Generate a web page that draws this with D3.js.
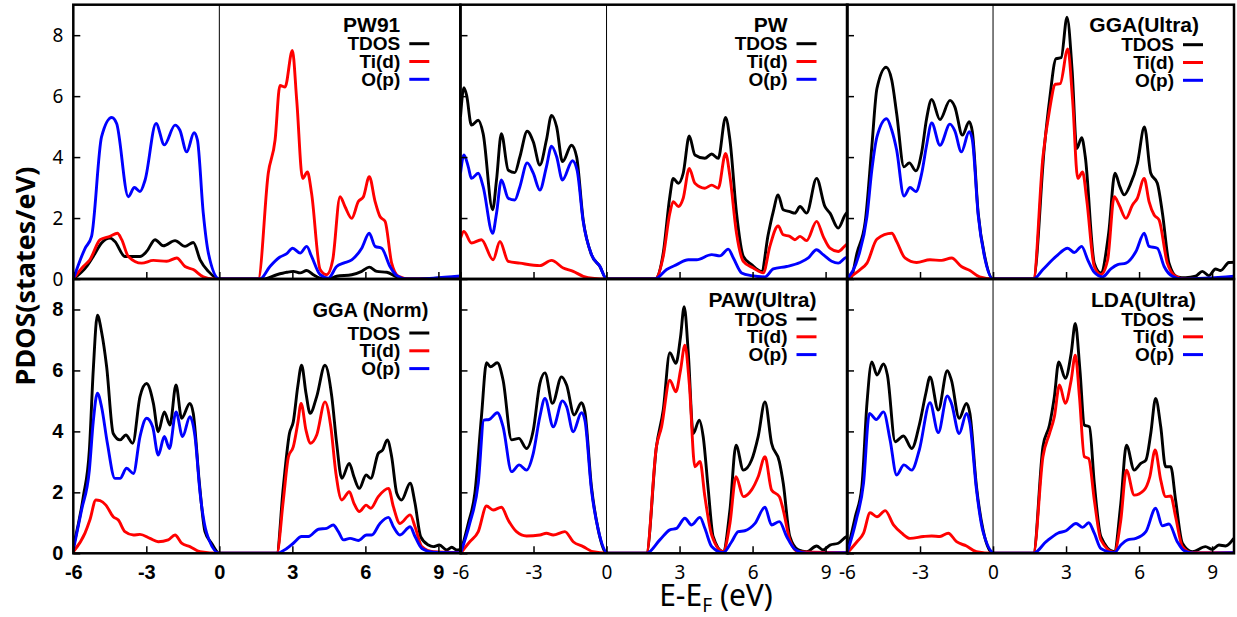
<!DOCTYPE html>
<html>
<head>
<meta charset="utf-8">
<script src="https://d3js.org/d3.v7.min.js"></script>
<style>
  body { margin: 0; background: #fff; }
  svg { display: block; }
</style>
</head>
<body>
<svg id="chart" width="1237" height="617"></svg>
<script>
// energies (eV) and DOS (states/eV)
var PW91_TDOS = [[-6,0],[-5.45,0.41],[-5.18,0.74],[-4.84,1.18],[-4.49,1.34],[-4.29,1.23],[-3.88,0.74],[-3.53,0.74],[-3.26,0.74],[-2.99,0.9],[-2.64,1.29],[-2.3,1.09],[-1.82,1.26],[-1.41,1.07],[-1.07,1.2],[-0.79,0.63],[-0.45,0.25],[0,0],[1.81,0],[2.36,0.14],[2.77,0.22],[3.04,0.25],[3.32,0.2],[3.59,0.28],[3.86,0.14],[4.14,0.03],[4.48,0],[4.82,0.09],[5.44,0.14],[5.85,0.25],[6.16,0.39],[6.47,0.25],[6.88,0.22],[7.29,0.07],[7.7,0],[8.8,0.02],[9.9,0.07]];
var PW91_TID = [[-6,0],[-5.59,0.41],[-5.32,0.63],[-4.9,1.29],[-4.49,1.4],[-4.19,1.5],[-4.01,1.29],[-3.74,0.74],[-3.19,0.52],[-2.71,0.61],[-2.16,0.58],[-1.75,0.69],[-1.41,0.41],[-1.07,0.31],[-0.66,0.07],[-0.25,0],[1.6,0],[2.01,3.47],[2.29,4.56],[2.49,6.35],[2.7,6.3],[3.0,7.5],[3.18,5.86],[3.42,3.3],[3.62,3.51],[3.79,2.81],[4.14,0.31],[4.41,0.14],[4.66,0.63],[4.96,2.7],[5.16,2.38],[5.44,1.99],[5.71,2.54],[5.92,2.7],[6.16,3.36],[6.4,2.54],[6.6,2.05],[6.81,1.89],[7.08,0.52],[7.36,0.09],[7.84,0],[9.9,0.05]];
var PW91_OP = [[-6,0],[-5.52,1.0],[-5.25,1.4],[-4.84,4.66],[-4.42,5.3],[-4.22,5.1],[-3.74,2.7],[-3.49,3.0],[-3.26,2.87],[-3.05,3.25],[-2.6,5.1],[-2.26,4.4],[-1.82,5.05],[-1.62,4.88],[-1.34,4.17],[-1.04,4.8],[-0.9,4.56],[-0.66,2.16],[-0.45,0.85],[0,0],[1.67,0],[2.08,0.41],[2.49,0.72],[2.77,0.83],[3.01,1.01],[3.32,0.85],[3.59,1.07],[3.79,0.74],[4.14,0.14],[4.48,0.03],[4.82,0.41],[5.1,0.52],[5.44,0.63],[5.85,1.01],[6.16,1.5],[6.4,1.07],[6.67,1.01],[7.01,0.41],[7.29,0.11],[7.7,0],[8.8,0.03],[9.9,0.1]];

var PW_TDOS = [[-6,5.32],[-5.86,6.28],[-5.75,6.03],[-5.55,5.05],[-5.27,5.21],[-5.07,4.77],[-4.68,2.27],[-4.52,3.25],[-4.32,4.77],[-4.04,3.57],[-3.77,3.49],[-3.56,4.01],[-3.26,4.85],[-3.01,4.5],[-2.74,3.74],[-2.47,4.56],[-2.26,5.37],[-2.05,4.99],[-1.81,3.85],[-1.44,4.39],[-1.23,4.01],[-0.96,1.94],[-0.62,0.8],[-0.27,0.41],[0,0],[1.99,0],[2.33,0.85],[2.6,2.7],[2.74,3.3],[2.95,3.14],[3.15,3.47],[3.4,4.69],[3.63,4.07],[4.04,3.96],[4.32,4.1],[4.59,3.96],[4.89,5.3],[5.07,4.56],[5.34,2.16],[5.62,0.74],[5.96,0.47],[6.37,0.25],[6.64,1.45],[6.85,2.21],[7.05,2.76],[7.26,2.27],[7.53,2.21],[7.74,2.16],[7.95,2.38],[8.22,2.16],[8.63,3.3],[8.97,2.38],[9.18,2.16],[9.52,1.67],[9.8,2.1],[9.9,2.2]];
var PW_TID = [[-6,1.34],[-5.86,1.56],[-5.55,1.18],[-5.14,1.29],[-4.66,0.63],[-4.38,1.23],[-4.04,0.58],[-3.56,0.52],[-2.74,0.44],[-2.26,0.61],[-1.78,0.36],[-1.37,0.25],[-0.96,0.09],[-0.5,0.02],[0,0],[1.99,0],[2.33,0.74],[2.6,2.16],[2.74,2.54],[2.95,2.38],[3.15,2.65],[3.4,3.63],[3.63,3.14],[4.04,2.98],[4.32,3.08],[4.59,2.98],[4.89,4.12],[5.07,3.36],[5.34,1.5],[5.62,0.58],[6.03,0.36],[6.44,0.2],[6.71,1.07],[7.05,1.74],[7.26,1.45],[7.53,1.4],[7.74,1.29],[7.95,1.4],[8.22,1.26],[8.63,1.89],[8.9,1.4],[9.18,1.01],[9.52,0.9],[9.8,1.09],[9.9,1.15]];
var PW_OP = [[-6,3.47],[-5.86,4.07],[-5.68,3.68],[-5.55,3.3],[-5.27,3.47],[-5.07,3.03],[-4.68,1.5],[-4.52,2.16],[-4.32,3.25],[-4.04,2.65],[-3.77,2.59],[-3.56,3.03],[-3.26,3.81],[-3.01,3.47],[-2.74,2.92],[-2.47,3.68],[-2.26,4.36],[-2.05,4.01],[-1.81,3.25],[-1.4,3.88],[-1.21,3.57],[-0.96,1.89],[-0.62,0.8],[-0.27,0.41],[0,0],[1.99,0],[2.47,0.31],[2.88,0.47],[3.36,0.63],[3.7,0.63],[4.32,0.8],[4.66,0.76],[5.0,0.98],[5.21,0.69],[5.55,0.2],[5.96,0.11],[6.51,0.07],[6.85,0.33],[7.4,0.41],[7.95,0.54],[8.29,0.69],[8.63,0.96],[8.9,0.8],[9.25,0.58],[9.52,0.52],[9.8,0.69],[9.9,0.72]];

var GGAU_TDOS = [[-6,0],[-5.84,0.03],[-5.59,0.85],[-5.25,1.89],[-4.98,4.34],[-4.77,6.25],[-4.39,6.95],[-4.16,6.52],[-3.96,5.43],[-3.66,3.68],[-3.44,3.81],[-3.17,3.55],[-2.93,4.17],[-2.73,5.26],[-2.52,5.89],[-2.18,5.23],[-1.77,5.86],[-1.57,5.65],[-1.26,4.72],[-0.98,5.16],[-0.85,4.83],[-0.61,2.16],[-0.34,0.74],[0,0],[1.66,0],[2.11,4.34],[2.32,5.86],[2.59,7.23],[2.8,7.26],[3.04,8.59],[3.25,6.84],[3.44,4.28],[3.64,4.64],[3.79,4.01],[4.16,0.52],[4.43,0.2],[4.75,1.5],[5.01,3.47],[5.21,3.03],[5.39,2.76],[5.63,3.08],[5.93,3.79],[6.22,4.99],[6.48,3.47],[6.75,3.14],[6.96,2.16],[7.23,0.52],[7.57,0.07],[7.91,0.04],[8.32,0.09],[8.6,0.25],[8.87,0.11],[9.14,0.33],[9.35,0.28],[9.69,0.54],[9.9,0.55]];
var GGAU_TID = [[-6,0],[-5.46,0.31],[-5.18,0.52],[-4.77,1.31],[-4.16,1.5],[-3.96,1.23],[-3.62,0.69],[-3.14,0.54],[-2.59,0.63],[-2.11,0.61],[-1.7,0.69],[-1.3,0.41],[-0.95,0.28],[-0.55,0.07],[0,0],[1.66,0],[2.05,4.01],[2.32,5.54],[2.56,6.39],[2.76,6.41],[3.07,7.55],[3.27,5.86],[3.48,3.3],[3.68,3.51],[3.85,2.59],[4.16,0.41],[4.43,0.14],[4.71,0.63],[4.98,2.7],[5.18,2.43],[5.46,1.99],[5.73,2.43],[5.93,2.65],[6.21,3.3],[6.41,2.54],[6.62,2.1],[6.82,1.94],[7.16,0.52],[7.5,0.09],[7.91,0],[9.9,0.02]];
var GGAU_OP = [[-6,0],[-5.53,0.74],[-5.18,2.05],[-4.98,3.57],[-4.77,4.66],[-4.37,5.26],[-4.16,4.88],[-3.96,4.23],[-3.66,2.72],[-3.41,3.0],[-3.17,2.87],[-2.93,3.47],[-2.73,4.39],[-2.52,5.12],[-2.18,4.39],[-1.77,5.08],[-1.57,4.86],[-1.3,4.17],[-0.98,4.83],[-0.85,4.56],[-0.61,2.1],[-0.34,0.69],[0,0],[1.66,0],[2.05,0.31],[2.59,0.74],[3.07,1.01],[3.34,0.87],[3.64,1.07],[3.89,0.63],[4.16,0.22],[4.5,0.07],[4.84,0.33],[5.12,0.47],[5.46,0.52],[5.87,0.9],[6.21,1.5],[6.41,1.07],[6.75,1.01],[7.03,0.41],[7.37,0.09],[7.8,0],[9.9,0.09]];

var GGAN_TDOS = [[-6,0.22],[-5.59,1.86],[-5.34,3.39],[-5.18,6.01],[-5.01,7.81],[-4.84,7.27],[-4.63,6.12],[-4.36,3.93],[-4.08,3.72],[-3.84,3.88],[-3.56,3.61],[-3.26,5.14],[-2.99,5.57],[-2.71,4.92],[-2.51,3.99],[-2.26,4.64],[-2.03,4.21],[-1.78,5.52],[-1.55,4.43],[-1.21,4.92],[-1.07,4.59],[-0.82,2.3],[-0.59,0.71],[-0.32,0.33],[0,0],[2.36,0],[2.63,2.19],[2.88,3.93],[3.04,4.32],[3.22,5.46],[3.38,6.17],[3.56,5.25],[3.73,4.59],[4.0,5.14],[4.34,6.17],[4.62,5.14],[4.82,3.61],[5.03,2.46],[5.34,2.95],[5.53,2.51],[5.75,2.13],[6.03,2.57],[6.22,2.46],[6.53,3.28],[6.71,3.39],[6.9,3.72],[7.08,3.17],[7.29,1.97],[7.49,1.75],[7.84,2.3],[8.04,1.64],[8.27,0.55],[8.59,0.27],[8.79,0.22],[9.04,0.27],[9.34,0.11],[9.55,0.2],[9.75,0.11],[9.9,0.13]];
var GGAN_TID = [[-6,0.05],[-5.52,0.66],[-5.32,1.09],[-5.07,1.75],[-4.9,1.73],[-4.66,1.58],[-4.36,1.2],[-4.15,1.09],[-3.88,0.71],[-3.53,0.6],[-3.26,0.62],[-2.85,0.49],[-2.51,0.38],[-2.1,0.44],[-1.82,0.6],[-1.55,0.33],[-1.21,0.22],[-0.79,0.05],[0,0],[2.36,0],[2.63,1.75],[2.84,3.17],[3.04,3.5],[3.22,4.26],[3.36,4.92],[3.56,4.04],[3.75,3.61],[4.0,3.88],[4.34,4.97],[4.58,4.15],[4.79,2.62],[5.03,1.75],[5.34,2.02],[5.53,1.64],[5.75,1.37],[6.03,1.58],[6.22,1.48],[6.53,1.86],[6.95,2.13],[7.15,1.53],[7.42,0.98],[7.84,1.26],[8.04,0.87],[8.32,0.22],[8.79,0.05],[9.9,0.02]];
var GGAN_OP = [[-6,0.1],[-5.66,1.42],[-5.34,2.73],[-5.18,4.32],[-5.01,5.25],[-4.84,4.81],[-4.6,3.61],[-4.29,2.46],[-4.08,2.46],[-3.81,2.79],[-3.53,2.62],[-3.26,3.83],[-2.99,4.43],[-2.74,4.15],[-2.51,3.22],[-2.26,3.83],[-2.05,3.44],[-1.78,4.64],[-1.51,3.83],[-1.21,4.48],[-1.0,3.83],[-0.79,1.97],[-0.52,0.66],[0,0],[2.36,0],[2.77,0.16],[3.04,0.33],[3.38,0.55],[3.66,0.55],[4.07,0.79],[4.41,0.82],[4.68,0.93],[4.89,0.71],[5.1,0.44],[5.37,0.49],[5.71,0.42],[6.05,0.6],[6.26,0.6],[6.6,0.98],[6.95,1.18],[7.15,0.87],[7.42,0.6],[7.84,0.87],[8.04,0.55],[8.32,0.16],[8.79,0.04],[9.9,0.02]];

var PAW_TDOS = [[-6,0],[-5.68,0.98],[-5.41,1.97],[-5.14,4.48],[-4.93,6.25],[-4.77,6.12],[-4.49,6.25],[-4.25,5.68],[-3.9,3.72],[-3.6,3.77],[-3.29,3.44],[-3.01,4.04],[-2.74,5.57],[-2.53,5.92],[-2.22,4.92],[-1.85,5.79],[-1.64,5.52],[-1.33,4.54],[-1.03,4.94],[-0.89,4.64],[-0.62,2.19],[-0.34,0.77],[0,0],[1.64,0],[2.05,3.5],[2.33,4.7],[2.6,6.58],[2.85,6.23],[3.04,7.1],[3.19,8.09],[3.36,6.56],[3.56,3.93],[3.81,4.37],[3.97,3.83],[4.18,2.08],[4.38,0.55],[4.79,0.05],[5.07,1.42],[5.32,3.55],[5.62,2.73],[5.96,3.06],[6.23,3.83],[6.51,4.97],[6.78,3.61],[7.1,3.01],[7.26,2.3],[7.53,0.55],[7.88,0.11],[8.22,0.05],[8.63,0.24],[8.9,0.11],[9.18,0.27],[9.52,0.33],[9.86,0.55],[9.9,0.56]];
var PAW_TID = [[-6,0],[-5.62,0.38],[-5.27,0.71],[-4.93,1.55],[-4.66,1.42],[-4.32,1.51],[-4.04,1.09],[-3.7,0.71],[-3.29,0.57],[-2.74,0.6],[-2.47,0.66],[-2.19,0.6],[-1.71,0.71],[-1.37,0.38],[-0.96,0.22],[-0.55,0.05],[0,0],[1.64,0],[2.05,3.5],[2.26,4.15],[2.6,5.68],[2.85,5.3],[3.04,6.01],[3.22,6.83],[3.4,5.57],[3.63,2.84],[3.84,3.01],[4.04,1.86],[4.32,0.6],[4.79,0.05],[5.07,0.98],[5.32,2.51],[5.62,1.86],[5.96,2.08],[6.23,2.51],[6.51,3.17],[6.78,2.08],[7.1,1.86],[7.26,1.42],[7.53,0.44],[7.88,0.05],[9.9,0.02]];
var PAW_OP = [[-6,0],[-5.62,0.98],[-5.27,2.3],[-5.04,4.37],[-4.82,4.39],[-4.49,4.61],[-4.25,4.15],[-3.9,2.68],[-3.59,2.9],[-3.29,2.73],[-3.01,3.28],[-2.74,4.48],[-2.53,5.08],[-2.19,4.15],[-1.81,5.0],[-1.64,4.81],[-1.37,3.99],[-1.03,4.61],[-0.89,4.37],[-0.62,2.08],[-0.34,0.77],[0.07,0],[1.64,0],[2.19,0.44],[2.6,0.77],[2.88,0.82],[3.22,1.15],[3.49,0.93],[3.84,1.18],[4.04,0.82],[4.32,0.22],[4.79,0.02],[5.14,0.38],[5.41,0.71],[5.68,0.74],[6.1,0.98],[6.51,1.51],[6.78,0.93],[7.1,1.04],[7.4,0.55],[7.74,0.13],[8.22,0],[9.9,0.02]];

var LDA_TDOS = [[-6,0],[-5.66,1.2],[-5.39,2.19],[-5.18,4.92],[-4.98,6.28],[-4.77,5.85],[-4.5,6.21],[-4.34,5.85],[-4.02,3.66],[-3.68,3.85],[-3.34,3.44],[-3.03,4.21],[-2.76,5.25],[-2.59,5.79],[-2.25,4.7],[-1.88,5.99],[-1.71,5.68],[-1.39,4.43],[-1.09,4.92],[-0.95,4.59],[-0.68,2.19],[-0.41,0.77],[0,0],[1.66,0],[2.05,3.5],[2.32,4.21],[2.52,5.14],[2.7,6.28],[2.97,5.74],[3.21,6.56],[3.38,7.54],[3.57,6.01],[3.75,4.21],[3.96,4.15],[4.16,2.3],[4.43,0.55],[4.98,0.05],[5.25,1.64],[5.48,3.55],[5.8,2.73],[6.07,2.95],[6.28,3.06],[6.48,3.93],[6.68,5.08],[6.89,4.15],[7.09,2.84],[7.3,2.84],[7.5,1.75],[7.78,0.33],[8.19,0.05],[8.73,0.22],[9.0,0.13],[9.28,0.27],[9.55,0.24],[9.89,0.49]];
var LDA_TID = [[-6,0],[-5.59,0.38],[-5.32,0.66],[-5.05,1.33],[-4.77,1.2],[-4.43,1.4],[-4.09,0.93],[-3.75,0.66],[-3.41,0.49],[-2.86,0.55],[-2.52,0.57],[-2.18,0.55],[-1.84,0.66],[-1.5,0.38],[-1.09,0.24],[-0.68,0.05],[0,0],[1.66,0],[2.05,3.17],[2.32,3.93],[2.52,4.48],[2.73,5.52],[2.97,4.92],[3.21,5.68],[3.38,6.5],[3.55,5.14],[3.75,3.17],[3.93,3.11],[4.16,1.75],[4.43,0.44],[4.98,0.03],[5.25,1.09],[5.48,2.73],[5.8,1.91],[6.21,2.08],[6.44,2.51],[6.66,3.39],[6.89,2.4],[7.09,1.86],[7.3,1.88],[7.5,1.2],[7.78,0.22],[8.19,0.02],[9.9,0.02]];
var LDA_OP = [[-6,0],[-5.62,1.09],[-5.32,2.3],[-5.08,4.59],[-4.8,4.39],[-4.5,4.64],[-4.23,3.72],[-3.96,2.57],[-3.66,2.9],[-3.34,2.73],[-3.03,3.39],[-2.59,4.94],[-2.25,3.96],[-1.88,5.16],[-1.71,4.92],[-1.39,3.93],[-1.09,4.59],[-0.95,4.26],[-0.68,2.08],[-0.41,0.71],[0.07,0],[1.66,0],[2.18,0.38],[2.66,0.66],[3.0,0.74],[3.41,0.98],[3.68,0.85],[3.93,1.0],[4.16,0.66],[4.43,0.16],[4.98,0.02],[5.25,0.27],[5.53,0.44],[5.87,0.49],[6.28,0.71],[6.68,1.48],[6.96,0.9],[7.23,0.96],[7.57,0.38],[7.84,0.09],[8.3,0],[9.9,0.02]];

var seriesNames = ['TDOS', 'Ti(d)', 'O(p)'];
var seriesColors = ['#000000', '#ff0000', '#0000ff'];
var yTicks = [0, 2, 4, 6, 8];
var xTicks = [-6, -3, 0, 3, 6, 9];

var panels = [
  {title: 'PW91',       row: 0, col: 0, series: [PW91_TDOS, PW91_TID, PW91_OP]},
  {title: 'PW',         row: 0, col: 1, series: [PW_TDOS, PW_TID, PW_OP]},
  {title: 'GGA(Ultra)', row: 0, col: 2, series: [GGAU_TDOS, GGAU_TID, GGAU_OP]},
  {title: 'GGA (Norm)', row: 1, col: 0, series: [GGAN_TDOS, GGAN_TID, GGAN_OP]},
  {title: 'PAW(Ultra)', row: 1, col: 1, series: [PAW_TDOS, PAW_TID, PAW_OP]},
  {title: 'LDA(Ultra)', row: 1, col: 2, series: [LDA_TDOS, LDA_TID, LDA_OP]}
];

// legend placement per panel (offsets from panel right / top)
var legendLayout = [
  {titleDx: -60, titleDy: 27, titleSize: 21, rowDy: 39},
  {titleDx: -60, titleDy: 27, titleSize: 21, rowDy: 39},
  {titleDx: -35, titleDy: 27, titleSize: 21, rowDy: 40},
  {titleDx: -32, titleDy: 38, titleSize: 20, rowDy: 54},
  {titleDx: -31, titleDy: 28, titleSize: 21, rowDy: 40},
  {titleDx: -38, titleDy: 28, titleSize: 21, rowDy: 40}
];

var colLeft = [73.3, 460.5, 847];
var colW = 387;
var rowTop = [4.7, 279];
var rowH = 274.3;

var svg = d3.select('#chart');
svg.append('rect').attr('width', 1237).attr('height', 617).attr('fill', '#fff');

function styleTicks(sel, bold) {
  sel.selectAll('text')
    .attr('font-family', bold ? 'Liberation Sans' : 'Noto Sans')
    .attr('font-size', bold ? 20 : 19)
    .attr('font-weight', bold ? 'bold' : 'normal')
    .attr('fill', '#000');
}

panels.forEach(function(p, i) {
  var L = colLeft[p.col], T = rowTop[p.row];
  var x = d3.scaleLinear().domain([-6, 9.9]).range([L, L + colW]);
  var y = d3.scaleLinear().domain([0, 9]).range([T + rowH, T]);

  var g = svg.append('g').attr('class', 'panel');

  g.append('clipPath').attr('id', 'clip' + i)
    .append('rect').attr('x', L).attr('y', T).attr('width', colW).attr('height', rowH);

  // Fermi level
  g.append('line')
    .attr('x1', x(0)).attr('x2', x(0))
    .attr('y1', T).attr('y2', T + rowH)
    .attr('stroke', '#000').attr('stroke-width', 1);

  var line = d3.line()
    .x(function(d) { return x(d[0]); })
    .y(function(d) { return y(d[1]); })
    .curve(d3.curveMonotoneX);

  var curves = g.append('g').attr('clip-path', 'url(#clip' + i + ')');
  p.series.forEach(function(s, k) {
    curves.append('path')
      .datum(s)
      .attr('d', line)
      .attr('fill', 'none')
      .attr('stroke', seriesColors[k])
      .attr('stroke-width', 2.9)
      .attr('stroke-linejoin', 'round');
  });

  // y axis, inward ticks, labels only on the first column
  var yAxis = g.append('g')
    .attr('transform', 'translate(' + L + ',0)')
    .call(d3.axisLeft(y).tickValues(yTicks).tickSize(-7).tickPadding(10)
      .tickFormat(function(d) { return p.col === 0 ? String(d) : ''; }));
  yAxis.select('.domain').remove();
  yAxis.selectAll('line').attr('stroke-width', 1.5);
  styleTicks(yAxis, p.row === 1);

  // x axis, labels on the bottom row only
  var xAxis = g.append('g')
    .attr('transform', 'translate(0,' + (T + rowH) + ')')
    .call(d3.axisBottom(x).tickValues(xTicks).tickSize(-7).tickPadding(12)
      .tickFormat(function(d) { return p.row === 1 ? String(d) : ''; }));
  xAxis.select('.domain').remove();
  xAxis.selectAll('line').attr('stroke-width', 1.5);
  styleTicks(xAxis, p.col === 0);

  g.append('rect')
    .attr('x', L).attr('y', T).attr('width', colW).attr('height', rowH)
    .attr('fill', 'none').attr('stroke', '#000').attr('stroke-width', 2.5);

  //************ legend ************/
  var lay = legendLayout[i];
  var R = L + colW;
  g.append('text')
    .attr('x', R + lay.titleDx).attr('y', T + lay.titleDy)
    .attr('text-anchor', 'end')
    .attr('font-family', 'Liberation Sans').attr('font-weight', 'bold')
    .attr('font-size', lay.titleSize)
    .text(p.title);

  seriesNames.forEach(function(name, k) {
    var ly = T + lay.rowDy + k * 17.8;
    g.append('text')
      .attr('x', R - 60).attr('y', ly + 6.5)
      .attr('text-anchor', 'end')
      .attr('font-family', 'Liberation Sans').attr('font-weight', 'bold')
      .attr('font-size', 19)
      .text(name);
    g.append('line')
      .attr('x1', R - 51).attr('x2', R - 31)
      .attr('y1', ly).attr('y2', ly)
      .attr('stroke', seriesColors[k]).attr('stroke-width', 3);
  });
});

// axis titles
svg.append('text')
  .attr('transform', 'translate(35,276) rotate(-90)')
  .attr('text-anchor', 'middle')
  .attr('font-family', 'Noto Sans').attr('font-weight', 'bold').attr('font-size', 27)
  .text('PDOS(states/eV)');

var xt = svg.append('text')
  .attr('x', 716).attr('y', 606)
  .attr('text-anchor', 'middle')
  .attr('font-family', 'Noto Sans').attr('font-size', 30);
xt.append('tspan').text('E-E');
xt.append('tspan').attr('font-size', 19).attr('dy', 6).text('F');
xt.append('tspan').attr('dy', -6).text(' (eV)');
</script>
</body>
</html>
